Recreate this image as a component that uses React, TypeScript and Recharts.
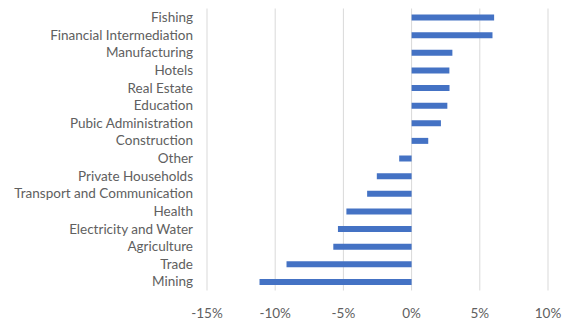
import React from 'react';
import { BarChart, Bar, XAxis, YAxis, CartesianGrid } from 'recharts';

const sectors = [
  'Fishing',
  'Financial Intermediation',
  'Manufacturing',
  'Hotels',
  'Real Estate',
  'Education',
  'Pubic Administration',
  'Construction',
  'Other',
  'Private Households',
  'Transport and Communication',
  'Health',
  'Electricity and Water',
  'Agriculture',
  'Trade',
  'Mining',
];

const changes = [6.05, 5.93, 2.99, 2.77, 2.78, 2.62, 2.15, 1.22, -0.91, -2.55, -3.26, -4.78, -5.4, -5.74, -9.17, -11.15];

const xTicks = [-15, -10, -5, 0, 5, 10];

const data = sectors.map((name, i) => ({ name, value: changes[i] }));

const FONT = 'Lato, "Open Sans", sans-serif';
const TEXT = '#606060';

export default function App() {
  return (
    <div style={{ position: 'absolute', left: 0, top: 0, background: '#fff' }}>
      <BarChart
        width={565}
        height={322}
        data={data}
        layout="vertical"
        margin={{ top: 8.5, right: 17, bottom: 0, left: 0 }}
      >
        <CartesianGrid horizontal={false} stroke="#d9d9d9" />
        <XAxis
          type="number"
          domain={[-15, 10]}
          ticks={xTicks}
          tickFormatter={(v: number) => `${v}%`}
          axisLine={false}
          tickLine={false}
          height={31.5}
          tickMargin={12}
          tick={{ fill: TEXT, fontSize: 13.5, fontFamily: FONT }}
        />
        <YAxis
          type="category"
          dataKey="name"
          width={207}
          axisLine={false}
          tickLine={false}
          tickMargin={8}
          interval={0}
          tick={{ fill: TEXT, fontSize: 13.5, fontFamily: FONT }}
        />
        <Bar dataKey="value" fill="#4472C4" barSize={6} isAnimationActive={false} />
      </BarChart>
    </div>
  );
}
